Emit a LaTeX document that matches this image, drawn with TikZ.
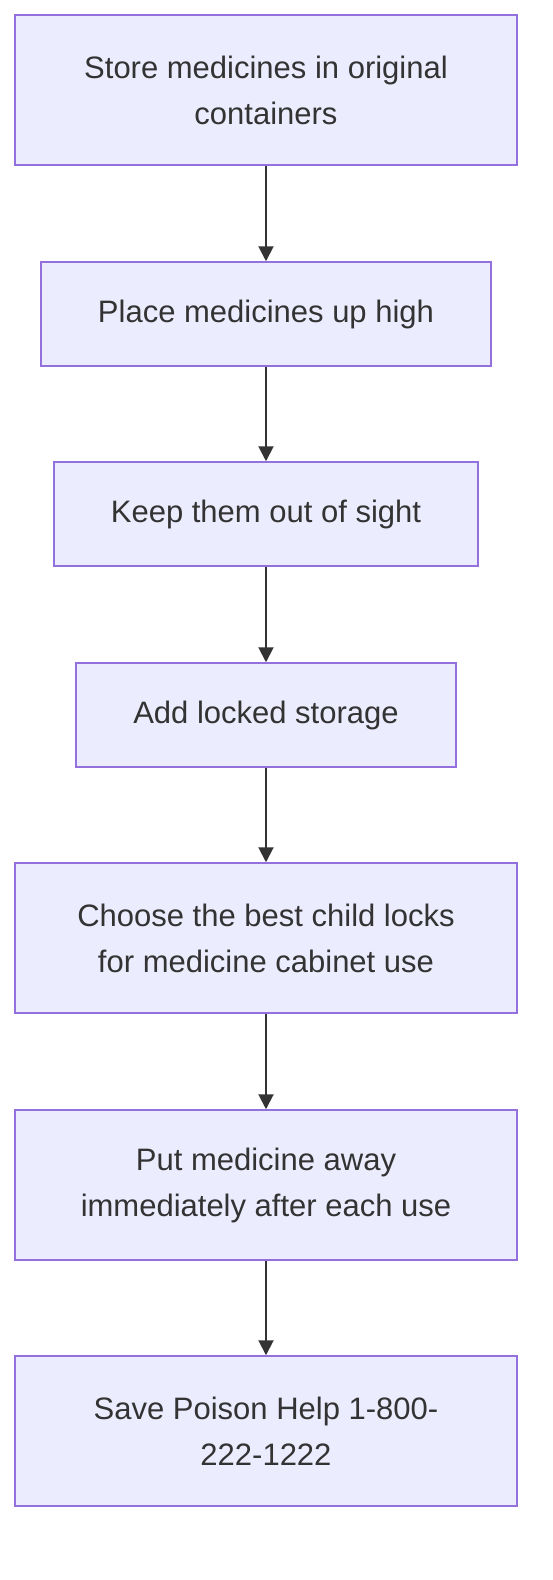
\documentclass[tikz,border=0pt]{standalone}
\usepackage{fontspec}
\setmainfont{Liberation Sans}
\usetikzlibrary{arrows.meta}
\definecolor{boxfill}{HTML}{ECECFF}
\definecolor{boxdraw}{HTML}{9370DB}
\definecolor{ink}{HTML}{333333}
\begin{document}
\begin{tikzpicture}[x=1pt,y=-1pt,
  stepbox/.style={draw=boxdraw,fill=boxfill,line width=1.5pt,rectangle,inner sep=0pt,
    text=ink,align=center,font=\fontsize{31}{46}\selectfont,minimum width=502pt,minimum height=150pt},
  flow/.style={draw=ink,line width=2pt,-{Triangle[width=15pt,length=15pt]}}]
\useasboundingbox (0,0) rectangle (552,1580);
\fill[white] (0,0) rectangle (552,1580);
\node[stepbox] (a) at (266,90) {Store medicines in original\\containers};
\node[stepbox,minimum width=450pt,minimum height=104pt] (b) at (266,314) {Place medicines up high};
\node[stepbox,minimum width=424pt,minimum height=104pt] (c) at (266,514) {Keep them out of sight};
\node[stepbox,minimum width=380pt,minimum height=104pt] (d) at (266,715) {Add locked storage};
\node[stepbox] (e) at (266,938) {Choose the best child locks\\for medicine cabinet use};
\node[stepbox] (f) at (266,1185) {Put medicine away\\immediately after each use};
\node[stepbox] (g) at (266,1431) {Save Poison Help 1-800-\\222-1222};
\draw[flow] (a) -- (b);
\draw[flow] (b) -- (c);
\draw[flow] (c) -- (d);
\draw[flow] (d) -- (e);
\draw[flow] (e) -- (f);
\draw[flow] (f) -- (g);
\end{tikzpicture}
\end{document}
